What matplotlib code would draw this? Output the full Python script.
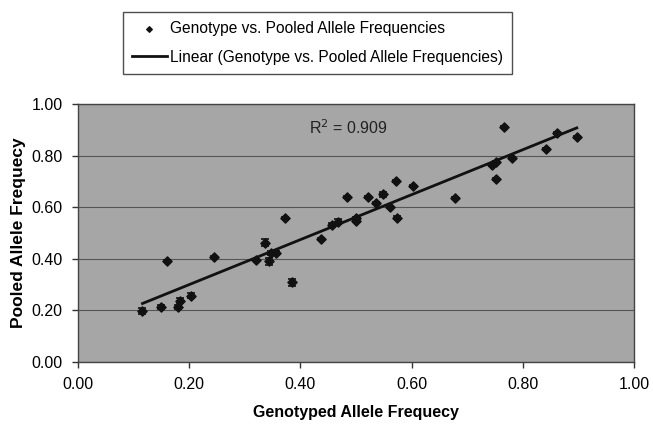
import matplotlib
matplotlib.use("Agg")
import matplotlib.pyplot as plt
import numpy as np

# genotyped vs pooled allele frequencies
genotyped = [0.116, 0.150, 0.180, 0.183, 0.204, 0.161, 0.245, 0.321, 0.336, 0.344,
             0.348, 0.357, 0.385, 0.373, 0.437, 0.457, 0.468, 0.500, 0.500, 0.483,
             0.521, 0.536, 0.549, 0.561, 0.572, 0.574, 0.603, 0.678, 0.745, 0.752,
             0.752, 0.767, 0.780, 0.841, 0.861, 0.897]
pooled = [0.199, 0.214, 0.214, 0.238, 0.257, 0.391, 0.408, 0.395, 0.462, 0.391,
          0.424, 0.424, 0.309, 0.558, 0.477, 0.531, 0.544, 0.557, 0.545, 0.641,
          0.641, 0.617, 0.650, 0.602, 0.703, 0.560, 0.683, 0.637, 0.765, 0.775,
          0.709, 0.912, 0.792, 0.824, 0.889, 0.871]
pooled_err = [0.012, 0.008, 0.008, 0.010, 0.010, 0.004, 0.004, 0.004, 0.014, 0.014,
              0.008, 0.008, 0.014, 0.004, 0.004, 0.008, 0.010, 0.004, 0.004, 0.004,
              0.004, 0.004, 0.010, 0.004, 0.004, 0.004, 0.004, 0.004, 0.004, 0.004,
              0.004, 0.004, 0.004, 0.004, 0.004, 0.004]
ticks = [0.0, 0.2, 0.4, 0.6, 0.8, 1.0]

plt.rcParams['font.family'] = ['Liberation Sans', 'DejaVu Sans']

fig = plt.figure(figsize=(6.53, 4.24), dpi=100)
ax = fig.add_axes([0.1194, 0.1462, 0.8516, 0.6085])
ax.set_facecolor('#a6a6a6')

x = np.array(genotyped)
y = np.array(pooled)

ax.errorbar(x, y, yerr=pooled_err, fmt='none', ecolor='#111111',
            elinewidth=1.0, capsize=3, capthick=1.2, zorder=3)
sc = ax.scatter(x, y, marker='D', s=22, color='#111111', zorder=4,
                label='Genotype vs. Pooled Allele Frequencies')

# least-squares trendline over the data range
slope, icpt = np.polyfit(x, y, 1)
xs = np.array([x.min(), x.max()])
ln, = ax.plot(xs, slope * xs + icpt, color='#111111', lw=2.0, zorder=5,
              label='Linear (Genotype vs. Pooled Allele Frequencies)')

ax.text(0.415, 0.907, 'R$^2$ = 0.909', fontsize=11.5, color='#222222',
        va='center', ha='left')

ax.set_xlim(0, 1)
ax.set_ylim(0, 1)
ax.set_xticks(ticks)
ax.set_yticks(ticks)
ax.set_xticklabels([f'{t:.2f}' for t in ticks], fontsize=11.5)
ax.set_yticklabels([f'{t:.2f}' for t in ticks], fontsize=11.5)
ax.tick_params(direction='out', length=4, width=1, color='#333333', pad=7)
ax.yaxis.grid(True, color='#555555', lw=0.8)
ax.set_axisbelow(True)
for s in ax.spines.values():
    s.set_color('#444444')
    s.set_linewidth(1.0)

ax.set_xlabel('Genotyped Allele Frequecy', fontsize=11.5, fontweight='bold',
              labelpad=9)
ax.set_ylabel('Pooled Allele Frequecy', fontsize=12.5, fontweight='bold',
              labelpad=4)

leg = fig.legend(handles=[sc, ln], loc='upper left',
                 bbox_to_anchor=(123 / 653, 1 - 12 / 424), fontsize=11.2,
                 frameon=True, fancybox=False, edgecolor='#222222',
                 handlelength=2.2, handletextpad=0.2, borderpad=0.6,
                 labelspacing=0.85, markerscale=0.6, borderaxespad=0)
leg.get_frame().set_linewidth(1.0)

fig.savefig('out.png', dpi=100)
